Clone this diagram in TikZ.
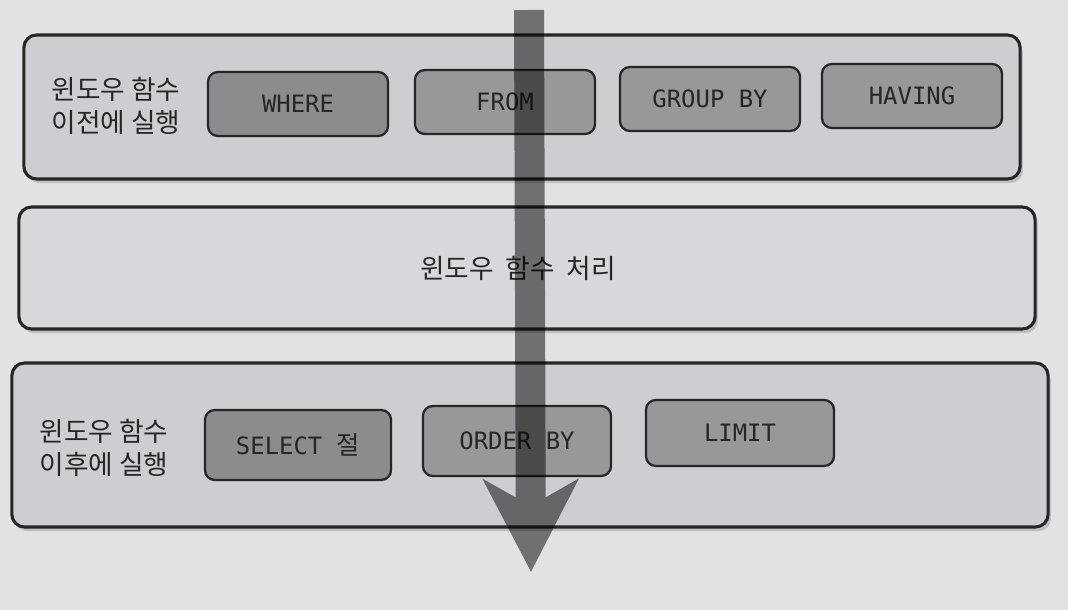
\documentclass[tikz,border=0pt]{standalone}
\usepackage{fontspec}
\setmainfont{Noto Sans CJK KR}
\newfontfamily\clausefont{DejaVu Sans Mono}
\usetikzlibrary{arrows.meta,shadows}

\definecolor{pagebg}{RGB}{226,225,228}
\definecolor{panelfill}{RGB}{206,205,209}
\definecolor{midfill}{RGB}{216,215,219}
\definecolor{boxdark}{RGB}{140,140,142}
\definecolor{boxmid}{RGB}{152,152,154}
\definecolor{inkcol}{RGB}{38,38,38}

\tikzset{
  panel/.style={draw=inkcol, line width=2.2pt, rounded corners=9pt, fill=panelfill,
    drop shadow={shadow xshift=2pt, shadow yshift=-3pt, opacity=0.35}},
  clause/.style={draw=inkcol, line width=1.6pt, rounded corners=7pt, fill=boxmid,
    minimum width=4.5cm, minimum height=1.6cm, text=inkcol, font=\clausefont\fontsize{17}{20}\selectfont},
  sidelabel/.style={align=left, text=inkcol, font=\fontsize{19}{23}\selectfont},
}

\begin{document}
\begin{tikzpicture}[x=0.025cm, y=-0.025cm]

\useasboundingbox[fill=pagebg] (0,0) rectangle (1068,610);

% before window functions
\node[panel, minimum width=24.9cm, minimum height=3.6cm] (pre_panel) at (522,107) {};
\node[sidelabel] (pre_label) at (116,106) {윈도우 함수\\이전에 실행};
\node[clause, fill=boxdark] (where_box) at (298,104) {WHERE};
\node[clause] (from_box) at (505,102) {FROM};
\node[clause] (group_box) at (710,99) {GROUP BY};
\node[clause] (having_box) at (912,96) {HAVING};

% window function step
\node[panel, fill=midfill, minimum width=25.4cm, minimum height=3.05cm] (win_panel) at (527,268) {};
\node[text=inkcol, font=\fontsize{19}{23}\selectfont] (win_label) at (518,268) {윈도우 \ 함수 \ 처리};

% after window functions
\node[panel, minimum width=25.9cm, minimum height=4.1cm] (post_panel) at (530,445) {};
\node[sidelabel] (post_label) at (104,448) {윈도우 함수\\이후에 실행};
\node[clause, fill=boxdark, minimum width=4.65cm, minimum height=1.75cm] (select_box) at (298,445) {SELECT {\normalfont\fontsize{18}{20}\selectfont 절}};
\node[clause, minimum width=4.7cm, minimum height=1.75cm] (order_box) at (517,441) {ORDER BY};
\node[clause, minimum width=4.7cm, minimum height=1.65cm] (limit_box) at (740,433) {LIMIT};

% flow arrow
\coordinate (flow_start) at (529,10);
\coordinate (flow_end) at (531,572);
\begin{scope}[transparency group, opacity=0.5]
\draw[black, line width=0.75cm, -{Stealth[length=2.3cm, width=2.35cm, inset=0.65cm]}] (flow_start) -- (flow_end);
\end{scope}

\end{tikzpicture}
\end{document}
